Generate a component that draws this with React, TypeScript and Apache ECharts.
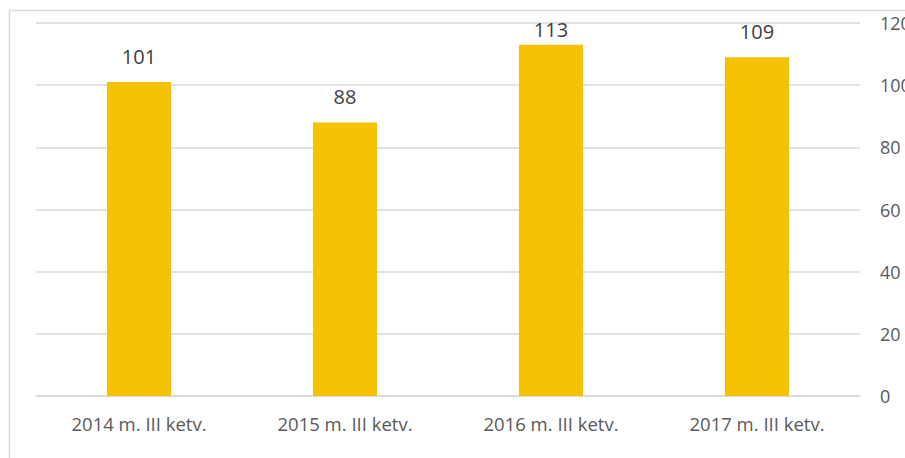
import React, { useEffect, useRef } from "react";
import * as echarts from "echarts";

const categories = ["2014 m. III ketv.", "2015 m. III ketv.", "2016 m. III ketv.", "2017 m. III ketv."];
const values = [101, 88, 113, 109];

export default function App() {
  const ref = useRef<HTMLDivElement>(null);
  useEffect(() => {
    const chart = echarts.init(ref.current!, null, { renderer: "svg" });
    chart.setOption({
      animation: false,
      textStyle: { fontFamily: "'Open Sans', sans-serif" },
      graphic: [
        {
          type: "rect",
          shape: { x: 9.5, y: 10.5, width: 1000, height: 1000 },
          style: { fill: "none", stroke: "#d9d9d9", lineWidth: 1.5 },
          silent: true,
        },
      ],
      grid: { left: 36, right: 45, top: 23, bottom: 62, outerBoundsMode: "none", containLabel: false },
      xAxis: {
        type: "category",
        data: categories,
        axisLine: { show: true, lineStyle: { color: "#d9d9d9", width: 1.5 } },
        axisTick: { show: false },
        axisLabel: { color: "#595959", fontSize: 18.5, margin: 18 },
      },
      yAxis: {
        type: "value",
        position: "right",
        min: 0,
        max: 120,
        interval: 20,
        axisLine: { show: false },
        axisTick: { show: false },
        splitLine: { lineStyle: { color: "#d9d9d9", width: 1.5 } },
        axisLabel: { color: "#595959", fontSize: 18, margin: 20 },
      },
      series: [
        {
          type: "bar",
          data: values.map((v) =>
            v === Math.max(...values) ? { value: v, label: { distance: 5 } } : v
          ),
          barWidth: 64,
          itemStyle: { color: "#F4C200" },
          label: {
            show: true,
            position: "top",
            distance: 16,
            color: "#404040",
            fontSize: 20,
          },
        },
      ],
    });
    return () => chart.dispose();
  }, []);
  return (
    <div
      ref={ref}
      style={{ position: "fixed", left: 0, top: 0, width: 905, height: 458, background: "#fff" }}
    />
  );
}
